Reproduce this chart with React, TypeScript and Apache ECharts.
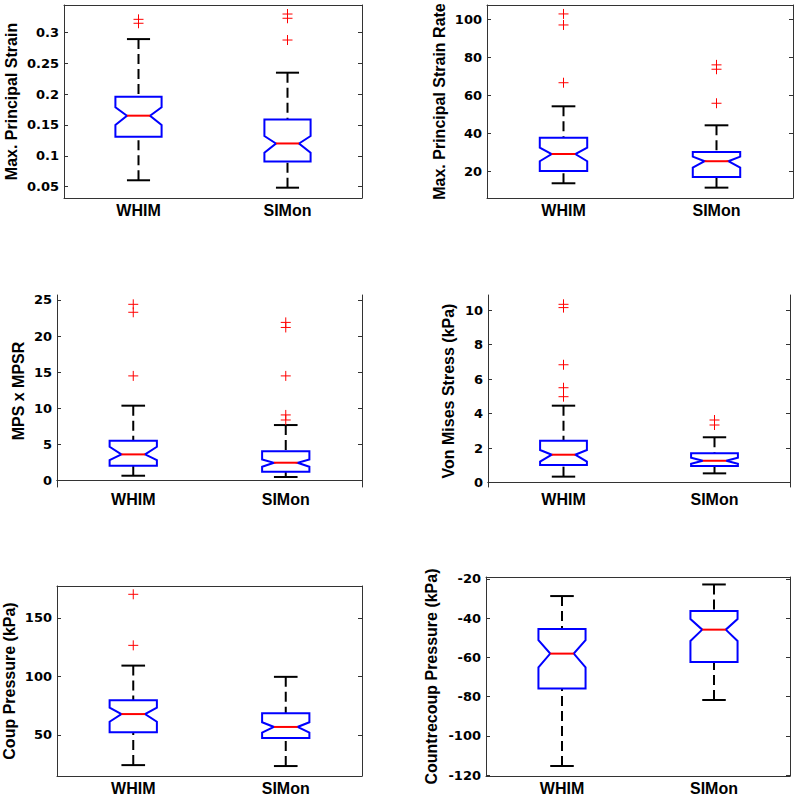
import React, { useEffect, useRef } from "react";
import * as echarts from "echarts";

const categories = ["WHIM", "SIMon"];

// Box statistics per group: [lower whisker, Q1, notch low, median, notch high, Q3, upper whisker]
const mpsWHIM = [0.0604, 0.131, 0.150, 0.165, 0.1786, 0.1957, 0.289];
const mpsSIMon = [0.0484, 0.091, 0.105, 0.12, 0.132, 0.159, 0.2346];
const mpsOutWHIM = [0.321, 0.3146];
const mpsOutSIMon = [0.3296, 0.3227, 0.2875];
const mpsTicks = [0.05, 0.1, 0.15, 0.2, 0.25, 0.3];

const mpsrWHIM = [13.7, 20.2, 25.3, 29.1, 32.4, 37.7, 54.2];
const mpsrSIMon = [11.4, 17.0, 21.9, 25.3, 27.7, 30.2, 44.2];
const mpsrOutWHIM = [102.8, 97.0, 66.6];
const mpsrOutSIMon = [76.0, 73.7, 55.8];
const mpsrTicks = [20, 40, 60, 80, 100];

const prodWHIM = [0.69, 2.08, 2.86, 3.64, 4.7, 5.53, 10.38];
const prodSIMon = [0.51, 1.25, 1.94, 2.49, 2.95, 4.06, 7.7];
const prodOutWHIM = [24.4, 23.3, 14.5];
const prodOutSIMon = [21.9, 21.2, 14.5, 9.1, 8.4];
const prodTicks = [0, 5, 10, 15, 20, 25];

const vmWHIM = [0.35, 1.02, 1.22, 1.62, 1.89, 2.43, 4.46];
const vmSIMon = [0.54, 0.97, 1.1, 1.27, 1.45, 1.7, 2.63];
const vmOutWHIM = [10.33, 10.14, 6.83, 5.5, 4.98];
const vmOutSIMon = [3.63, 3.34];
const vmTicks = [0, 2, 4, 6, 8, 10];

const coupWHIM = [24.2, 52.3, 61.3, 67.8, 73.2, 79.5, 109.2];
const coupSIMon = [23.4, 47.4, 52.0, 56.8, 60.8, 68.4, 99.6];
const coupOutWHIM = [170.1, 126.5];
const coupOutSIMon: number[] = [];
const coupTicks = [50, 100, 150];

const ccWHIM = [-115.3, -75.8, -65.1, -58.1, -51.2, -45.6, -28.8];
const ccSIMon = [-81.7, -62.4, -51.7, -45.9, -40.5, -36.4, -22.9];
const ccOutWHIM: number[] = [];
const ccOutSIMon: number[] = [];
const ccTicks = [-120, -100, -80, -60, -40, -20];

const yNames = [
  "Max. Principal Strain",
  "Max. Principal Strain Rate",
  "MPS x MPSR",
  "Von Mises Stress (kPa)",
  "Coup Pressure (kPa)",
  "Countrecoup Pressure (kPa)",
];
const yMins = [0.0317, 5.95, -0.87, -0.25, 14.9, -120.4];
const yMaxs = [0.3442, 107.5, 25.69, 10.87, 177.2, -19.1];

const statsList = [
  [mpsWHIM, mpsSIMon],
  [mpsrWHIM, mpsrSIMon],
  [prodWHIM, prodSIMon],
  [vmWHIM, vmSIMon],
  [coupWHIM, coupSIMon],
  [ccWHIM, ccSIMon],
];
const outList = [
  [mpsOutWHIM, mpsOutSIMon],
  [mpsrOutWHIM, mpsrOutSIMon],
  [prodOutWHIM, prodOutSIMon],
  [vmOutWHIM, vmOutSIMon],
  [coupOutWHIM, coupOutSIMon],
  [ccOutWHIM, ccOutSIMon],
];
const tickList = [mpsTicks, mpsrTicks, prodTicks, vmTicks, coupTicks, ccTicks];

// layout (pixels)
const grids = [
  { left: 64, top: 5, width: 298, height: 193 },
  { left: 487, top: 5, width: 306, height: 193 },
  { left: 57, top: 295, width: 305, height: 192 },
  { left: 488, top: 295, width: 302, height: 192 },
  { left: 56, top: 586, width: 306, height: 191 },
  { left: 486, top: 577, width: 304, height: 199 },
];
const nameGaps = [45, 40, 31, 32, 40, 47];

const FRAME = "#333";
const tickFont = { fontFamily: "DejaVu Sans", fontWeight: "bold" as const, fontSize: 13, color: "#000" };
const textFont = { fontFamily: "Liberation Sans", fontWeight: "bold" as const, fontSize: 16, color: "#000" };

function boxRender(params: any, api: any) {
  const c = api.value(0);
  const pt = (i: number) => api.coord([c, api.value(i)]);
  const x = pt(4)[0];
  const band = api.size([1, 0])[0];
  const hw = band * 0.155;
  const yWl = pt(1)[1];
  const yQ1 = pt(2)[1];
  const yNl = pt(3)[1];
  const yMed = pt(4)[1];
  const yNh = pt(5)[1];
  const yQ3 = pt(6)[1];
  const yWh = pt(7)[1];
  const dash = { stroke: "#000", lineWidth: 2, lineDash: [10, 5] };
  const solid = { stroke: "#000", lineWidth: 2 };
  return {
    type: "group",
    children: [
      { type: "line", shape: { x1: x, y1: yWh, x2: x, y2: yQ3 }, style: dash },
      { type: "line", shape: { x1: x, y1: yWl, x2: x, y2: yQ1 }, style: dash },
      { type: "line", shape: { x1: x - hw / 2, y1: yWh, x2: x + hw / 2, y2: yWh }, style: solid },
      { type: "line", shape: { x1: x - hw / 2, y1: yWl, x2: x + hw / 2, y2: yWl }, style: solid },
      {
        type: "polygon",
        shape: {
          points: [
            [x - hw, yQ3],
            [x + hw, yQ3],
            [x + hw, yNh],
            [x + hw / 2, yMed],
            [x + hw, yNl],
            [x + hw, yQ1],
            [x - hw, yQ1],
            [x - hw, yNl],
            [x - hw / 2, yMed],
            [x - hw, yNh],
          ],
        },
        style: { fill: "none", stroke: "#0000ff", lineWidth: 2 },
      },
      { type: "line", shape: { x1: x - hw / 2, y1: yMed, x2: x + hw / 2, y2: yMed }, style: { stroke: "#ff0000", lineWidth: 2 } },
    ],
  };
}

function plusRender(params: any, api: any) {
  const p = api.coord([api.value(0), api.value(1)]);
  const s = 5;
  const st = { stroke: "#ff0000", lineWidth: 1 };
  return {
    type: "group",
    children: [
      { type: "line", shape: { x1: p[0] - s, y1: p[1], x2: p[0] + s, y2: p[1] }, style: st },
      { type: "line", shape: { x1: p[0], y1: p[1] - s, x2: p[0], y2: p[1] + s }, style: st },
    ],
  };
}

export default function App() {
  const ref = useRef<HTMLDivElement>(null);
  useEffect(() => {
    if (!ref.current) return;
    const chart = echarts.init(ref.current, undefined, { renderer: "svg" });
    const xAxis: any[] = [];
    const yAxis: any[] = [];
    const series: any[] = [];
    grids.forEach((g, p) => {
      xAxis.push({
        type: "category",
        gridIndex: p,
        data: categories,
        position: "bottom",
        axisLine: { lineStyle: { color: FRAME, width: 1 } },
        axisTick: { inside: true, alignWithLabel: true, length: 4, lineStyle: { color: FRAME } },
        axisLabel: { ...textFont, margin: 4 },
      });
      xAxis.push({
        type: "category",
        gridIndex: p,
        data: categories,
        position: "top",
        axisLine: { lineStyle: { color: FRAME, width: 1 } },
        axisTick: { inside: true, alignWithLabel: true, length: 4, lineStyle: { color: FRAME } },
        axisLabel: { show: false },
      });
      yAxis.push({
        type: "value",
        gridIndex: p,
        position: "left",
        min: yMins[p],
        max: yMaxs[p],
        name: yNames[p],
        nameLocation: "middle",
        nameRotate: 90,
        nameGap: nameGaps[p],
        nameTextStyle: textFont,
        axisLine: { show: true, lineStyle: { color: FRAME, width: 1 } },
        axisTick: { show: true, inside: true, length: 4, customValues: tickList[p], lineStyle: { color: FRAME } },
        axisLabel: { ...tickFont, margin: 5, customValues: tickList[p] },
        splitLine: { show: false },
      });
      yAxis.push({
        type: "value",
        gridIndex: p,
        position: "right",
        min: yMins[p],
        max: yMaxs[p],
        axisLine: { show: true, lineStyle: { color: FRAME, width: 1 } },
        axisTick: { show: true, inside: true, length: 4, customValues: tickList[p], lineStyle: { color: FRAME } },
        axisLabel: { show: false },
        splitLine: { show: false },
      });
      series.push({
        type: "custom",
        xAxisIndex: 2 * p,
        yAxisIndex: 2 * p,
        renderItem: boxRender,
        encode: { x: 0, y: [1, 2, 3, 4, 5, 6, 7] },
        data: statsList[p].map((s, i) => [i, ...s]),
        silent: true,
      });
      const outs: number[][] = [];
      outList[p].forEach((arr, i) => arr.forEach((v) => outs.push([i, v])));
      series.push({
        type: "custom",
        xAxisIndex: 2 * p,
        yAxisIndex: 2 * p,
        renderItem: plusRender,
        encode: { x: 0, y: 1 },
        data: outs,
        silent: true,
      });
    });
    chart.setOption({
      animation: false,
      backgroundColor: "#fff",
      grid: grids.map((g) => ({ ...g, show: false, containLabel: false })),
      xAxis,
      yAxis,
      series,
    });
    return () => chart.dispose();
  }, []);
  return (
    <div
      ref={ref}
      style={{ position: "absolute", left: 0, top: 0, width: 795, height: 796 }}
    />
  );
}
